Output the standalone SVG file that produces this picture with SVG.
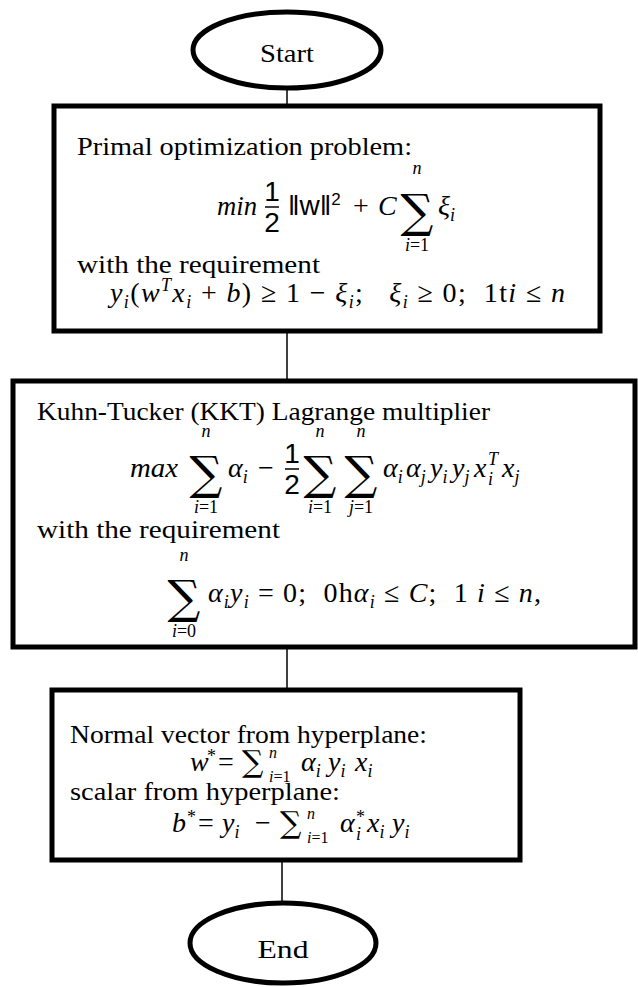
<svg xmlns="http://www.w3.org/2000/svg" width="638" height="987" viewBox="0 0 638 987">
<defs>
<style>
.bx{fill:#fff;stroke:#000;stroke-width:5}
.el{fill:#fff;stroke:#000;stroke-width:5}
.cn{stroke:#000;stroke-width:1.5;fill:none}
.fb{stroke:#000;stroke-width:1.5}
text{font-family:"Liberation Serif","DejaVu Serif",serif;fill:#000;white-space:pre}
.t{font-size:26px}
.m{font-size:28px}
.i{font-style:italic}
.s{font-size:18px}
.ss{font-size:16px}
.f{font-family:"Liberation Sans","DejaVu Sans",sans-serif;font-size:28px}
.sg{font-family:"DejaVu Serif",serif;font-size:46px}
.sgs{font-family:"DejaVu Serif",serif;font-size:30px}
.c{text-anchor:middle}
</style>
</defs>
<g id="connectors">
<line class="cn" x1="287" y1="88" x2="287" y2="106"/>
<line class="cn" x1="287" y1="331" x2="287" y2="381"/>
<line class="cn" x1="287" y1="647" x2="287" y2="690"/>
<line class="cn" x1="282" y1="860" x2="282" y2="903"/>
</g>
<g id="start">
<ellipse class="el" cx="287" cy="50" rx="94" ry="38"/>
<text class="t c" x="287" y="62" font-size="28" textLength="54" lengthAdjust="spacingAndGlyphs">Start</text>
</g>
<g id="primal">
<rect class="bx" x="54" y="106" width="546" height="225"/>
<text class="t" x="77" y="155" textLength="335" lengthAdjust="spacingAndGlyphs">Primal optimization problem:</text>
<text class="m i" x="217" y="215" textLength="40" lengthAdjust="spacingAndGlyphs">min</text>
<text class="f c" x="272" y="201">1</text>
<line class="fb" x1="265" y1="207" x2="279" y2="207"/>
<text class="f c" x="272" y="232">2</text>
<text class="f" x="288" y="215" font-size="26">‖w‖<tspan font-size="17" dy="-10">2</tspan></text>
<text class="m c" x="361" y="215">+</text>
<text class="m i" x="378" y="215">C</text>
<text class="sg c" x="417" y="227">∑</text>
<text class="s i c" x="417" y="174">n</text>
<text class="s c" x="417" y="251"><tspan class="i">i</tspan>=1</text>
<text class="m i" x="438" y="215">ξ<tspan class="s" dy="6">i</tspan></text>
<text class="t" x="77" y="273" textLength="243" lengthAdjust="spacingAndGlyphs">with the requirement</text>
<text class="m" x="110" y="302" xml:space="preserve" textLength="455" lengthAdjust="spacing"><tspan class="i">y</tspan><tspan class="s i" dy="6">i</tspan><tspan dy="-6">(</tspan><tspan class="i">w</tspan><tspan class="s i" dy="-11">T</tspan><tspan class="i" dy="11">x</tspan><tspan class="s i" dy="6">i</tspan><tspan dy="-6"> + </tspan><tspan class="i">b</tspan>) ≥ 1 − <tspan class="i">ξ</tspan><tspan class="s i" dy="6">i</tspan><tspan dy="-6">;   </tspan><tspan class="i">ξ</tspan><tspan class="s i" dy="6">i</tspan><tspan dy="-6"> ≥ 0;  1t</tspan><tspan class="i">i</tspan> ≤ <tspan class="i">n</tspan></text>
</g>
<g id="kkt">
<rect class="bx" x="13" y="381" width="622" height="266"/>
<text class="t" x="37" y="420" textLength="453" lengthAdjust="spacingAndGlyphs">Kuhn-Tucker (KKT) Lagrange multiplier</text>
<text class="m i" x="130" y="477" textLength="48" lengthAdjust="spacingAndGlyphs">max</text>
<text class="sg c" x="206" y="489">∑</text>
<text class="s i c" x="206" y="437">n</text>
<text class="s c" x="206" y="513"><tspan class="i">i</tspan>=1</text>
<text class="m i" x="228" y="477">α<tspan class="s" dy="6">i</tspan></text>
<text class="m c" x="266" y="477">−</text>
<text class="f c" x="292" y="463">1</text>
<line class="fb" x1="285" y1="469" x2="299" y2="469"/>
<text class="f c" x="292" y="494">2</text>
<text class="sg c" x="320" y="489">∑</text>
<text class="s i c" x="320" y="437">n</text>
<text class="s c" x="320" y="513"><tspan class="i">i</tspan>=1</text>
<text class="sg c" x="361" y="489">∑</text>
<text class="s i c" x="361" y="437">n</text>
<text class="s c" x="361" y="513"><tspan class="i">j</tspan>=1</text>
<text class="m i" x="383" y="477">α<tspan class="s" dy="6">i</tspan></text>
<text class="m i" x="406" y="477">α<tspan class="s" dy="6">j</tspan></text>
<text class="m i" x="430" y="477">y<tspan class="s" dy="6">i</tspan></text>
<text class="m i" x="452" y="477">y<tspan class="s" dy="6">j</tspan></text>
<text class="m i" x="474" y="477">x</text>
<text class="s i" x="488" y="465">T</text>
<text class="s i" x="488" y="485">i</text>
<text class="m i" x="502" y="477">x<tspan class="s" dy="6">j</tspan></text>
<text class="t" x="37" y="538" textLength="243" lengthAdjust="spacingAndGlyphs">with the requirement</text>
<text class="sg c" x="184" y="613">∑</text>
<text class="s i c" x="184" y="561">n</text>
<text class="s c" x="184" y="637"><tspan class="i">i</tspan>=0</text>
<text class="m" x="208" y="602" xml:space="preserve" textLength="333" lengthAdjust="spacing"><tspan class="i">α</tspan><tspan class="s i" dy="6">i</tspan><tspan class="i" dy="-6">y</tspan><tspan class="s i" dy="6">i</tspan><tspan dy="-6"> = 0;  0h</tspan><tspan class="i">α</tspan><tspan class="s i" dy="6">i</tspan><tspan dy="-6"> ≤ </tspan><tspan class="i">C</tspan>;  1 <tspan class="i">i</tspan> ≤ <tspan class="i">n</tspan>,</text>
</g>
<g id="hyperplane">
<rect class="bx" x="52" y="690" width="468" height="170"/>
<text class="t" x="70" y="743" textLength="357" lengthAdjust="spacingAndGlyphs">Normal vector from hyperplane:</text>
<text class="m i" x="190" y="771">w</text>
<text class="s" x="207" y="762">*</text>
<text class="m c" x="226" y="771">=</text>
<text class="sgs" x="242" y="772">∑</text>
<text class="ss i" x="269" y="758">n</text>
<text class="ss" x="269" y="782"><tspan class="i">i</tspan>=1</text>
<text class="m i" x="301" y="771">α<tspan class="s" dy="6">i</tspan></text>
<text class="m i" x="328" y="771">y<tspan class="s" dy="6">i</tspan></text>
<text class="m i" x="355" y="771">x<tspan class="s" dy="6">i</tspan></text>
<text class="t" x="70" y="800" textLength="270" lengthAdjust="spacingAndGlyphs">scalar from hyperplane:</text>
<text class="m i" x="172" y="832">b</text>
<text class="s" x="187" y="823">*</text>
<text class="m c" x="206" y="832">=</text>
<text class="m i" x="222" y="832">y<tspan class="s" dy="6">i</tspan></text>
<text class="m c" x="263" y="832">−</text>
<text class="sgs" x="280" y="833">∑</text>
<text class="ss i" x="307" y="819">n</text>
<text class="ss" x="307" y="843"><tspan class="i">i</tspan>=1</text>
<text class="m i" x="340" y="832">α</text>
<text class="s" x="356" y="823">*</text>
<text class="s i" x="356" y="840">i</text>
<text class="m i" x="367" y="832">x<tspan class="s" dy="6">i</tspan></text>
<text class="m i" x="392" y="832">y<tspan class="s" dy="6">i</tspan></text>
</g>
<g id="end">
<ellipse class="el" cx="283" cy="943" rx="93" ry="40"/>
<text class="t c" x="283" y="958" font-size="30" textLength="51" lengthAdjust="spacingAndGlyphs">End</text>
</g>
</svg>
